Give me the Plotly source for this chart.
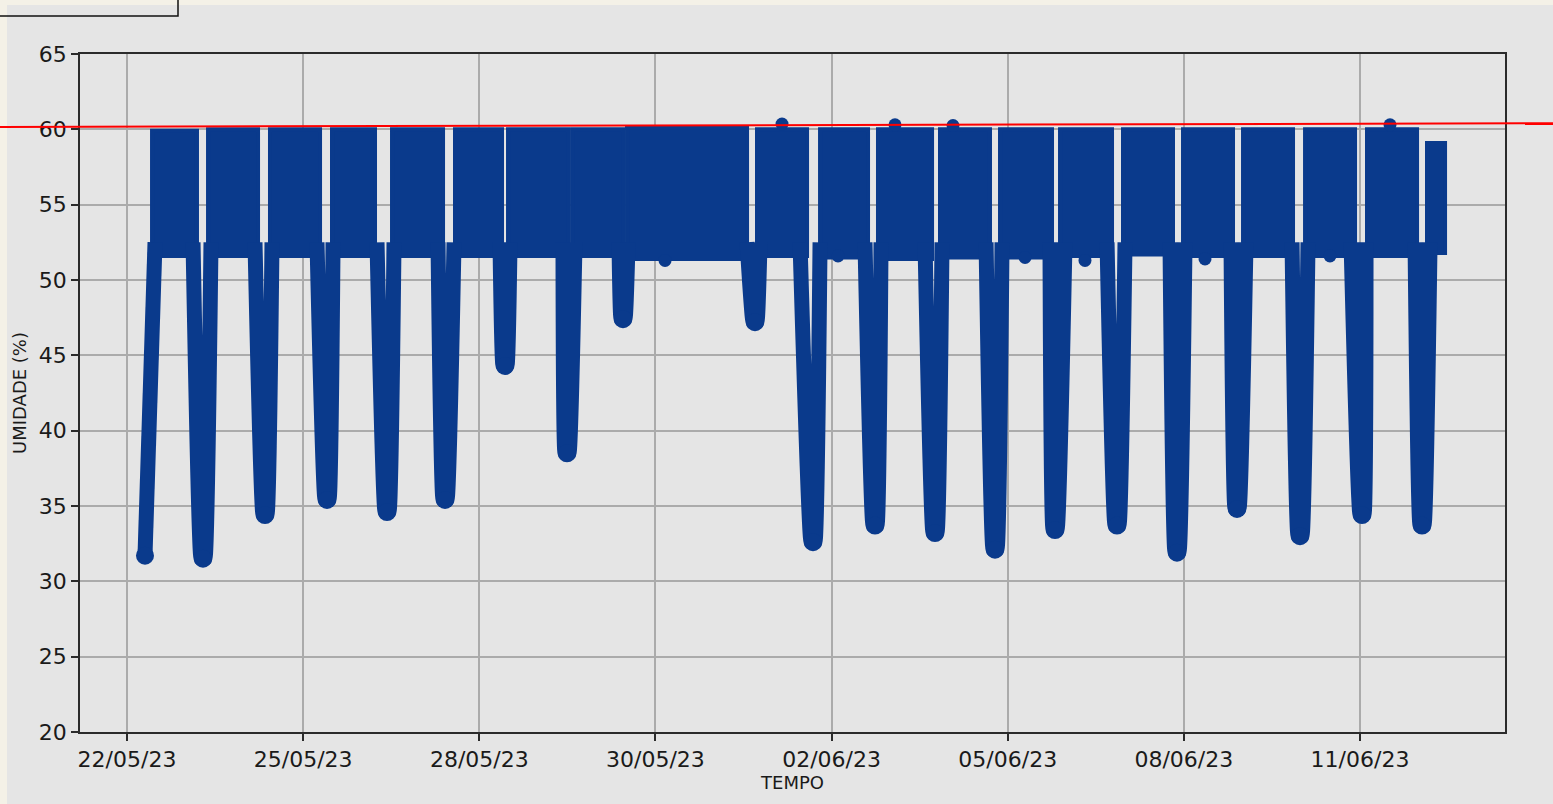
import pandas as pd
import plotly.graph_objects as go

BASE = pd.Timestamp("2023-05-22 00:00")

# ---------------- data (elapsed days since 22/05/23 00:00, humidity %) ----------------
# dense "plateau" blocks of readings
block_start = [0.662, 1.584, 2.604, 3.625, 4.613, 5.650, 6.523, 7.577, 8.482, 10.622,
               11.660, 12.614, 13.635, 14.623, 15.611, 16.648, 17.636, 18.624, 19.645,
               20.665, 21.653]
block_end = [1.402, 2.407, 3.428, 4.333, 5.453, 6.424, 7.511, 8.416, 10.458, 11.446,
             12.450, 13.504, 14.458, 15.479, 16.467, 17.471, 18.459, 19.447, 20.468,
             21.489, 21.950]
block_top = [59.9, 60.0, 60.0, 60.0, 60.0, 60.0, 60.0, 60.0, 60.1, 60.0,
             60.0, 60.0, 60.0, 60.0, 60.0, 60.0, 60.0, 60.0, 60.0, 60.0, 59.1]
block_bottom = [51.6, 51.6, 51.6, 51.6, 51.6, 51.6, 51.6, 51.6, 51.4, 51.6,
                51.5, 51.4, 51.5, 51.5, 51.6, 51.7, 51.6, 51.6, 51.6, 51.6, 51.8]

# daily humidity drops: leave plateau, minimum, return to plateau
dip_start = [None, 1.337, 2.357, 3.378, 4.366, 5.370, 6.391, 7.428, 8.350, 10.458,
             11.330, 12.400, 13.388, 14.393, 15.446, 16.385, 17.422, 18.426, 19.431,
             20.402, 21.456]
dip_min_t = [0.546, 1.501, 2.522, 3.543, 4.531, 5.486, 6.473, 7.494, 8.416, 10.589,
             11.544, 12.565, 13.553, 14.541, 15.529, 16.549, 17.537, 18.525, 19.562,
             20.583, 21.571]
dip_min_v = [31.2, 31.0, 33.9, 34.9, 34.1, 34.9, 43.8, 38.0, 46.9, 46.7,
             32.1, 33.2, 32.7, 31.6, 32.9, 33.2, 31.4, 34.3, 32.5, 33.9, 33.2]
dip_end = [0.711, 1.633, 2.637, 3.642, 4.646, 5.634, 6.556, 7.626, 8.499, 10.672,
           11.660, 12.664, 13.668, 14.656, 15.693, 16.681, 17.669, 18.673, 19.694,
           20.649, 21.703]

# isolated readings above / below the plateau
peak_t = [11.034, 12.894, 13.849, 21.044]
peak_v = [60.35, 60.3, 60.25, 60.3]
low_t = [9.108, 11.956, 15.035, 16.022, 17.998, 20.056]
low_v = [51.3, 51.6, 51.5, 51.3, 51.4, 51.6]

tick_days = [0.25, 3.15, 6.05, 8.95, 11.85, 14.75, 17.65, 20.55]
tick_labels = ["22/05/23", "25/05/23", "28/05/23", "30/05/23",
               "02/06/23", "05/06/23", "08/06/23", "11/06/23"]
x_range_days = [-0.524, 22.937]
y_range = [20, 65]
y_ticks = [20, 25, 30, 35, 40, 45, 50, 55, 60, 65]
limit_values = [60.16, 60.40]   # hand-drawn red limit line (left end, right end)

# ---------------- styling ----------------
COLOR = "#0a3a8c"
BG = "#e5e5e5"
FONT = "DejaVu Sans"
W, H = 1553, 804
ML, MR, MT, MB = 80, 48, 54, 72
LEG_TOP = 52.5
LEG_W = 15
R_UNITS = 0.5
PX_PER_DAY = (W - ML - MR) / (x_range_days[1] - x_range_days[0])
HALF_BOTTOM = 2.0 / PX_PER_DAY   # half-width of the rounded bottom of each drop


def T(d):
    return None if d is None else BASE + pd.to_timedelta(d, unit="D")


fig = go.Figure()

# plateau blocks
for s, e, t, b in zip(block_start, block_end, block_top, block_bottom):
    fig.add_trace(go.Scatter(
        x=[T(s), T(e), T(e), T(s), T(s)], y=[b, b, t, t, b],
        mode="lines", fill="toself", fillcolor=COLOR,
        line=dict(color=COLOR, width=4), hoverinfo="skip", showlegend=False))

# drops (each drawn as its own narrow U)
for s, mt, mv, e in zip(dip_start, dip_min_t, dip_min_v, dip_end):
    yb = mv + R_UNITS
    if s is None:
        xs, ys = [T(mt), T(e)], [yb, LEG_TOP]
    else:
        xs = [T(s), T(mt - HALF_BOTTOM), T(mt + HALF_BOTTOM), T(e)]
        ys = [LEG_TOP, yb, yb, LEG_TOP]
    fig.add_trace(go.Scatter(x=xs, y=ys, mode="lines",
                             line=dict(color=COLOR, width=LEG_W, shape="spline", smoothing=0.2),
                             hoverinfo="skip", showlegend=False))
fig.add_trace(go.Scatter(x=[T(t) for t in dip_min_t], y=[v + R_UNITS for v in dip_min_v],
                         mode="markers", marker=dict(color=COLOR, size=LEG_W + 3),
                         hoverinfo="skip", showlegend=False))
fig.add_trace(go.Scatter(x=[T(t) for t in peak_t + low_t], y=peak_v + low_v,
                         mode="markers", marker=dict(color=COLOR, size=13),
                         hoverinfo="skip", showlegend=False))


def px_x(p):
    return (p - ML) / (W - ML - MR)


def px_y(p):
    return (H - MB - p) / (H - MT - MB)


def val_y(v):
    return (v - y_range[0]) / (y_range[1] - y_range[0])


shapes = [
    # cream page strips around the screenshot
    dict(type="rect", xref="paper", yref="paper", x0=px_x(0), x1=px_x(7), y0=px_y(804), y1=px_y(0),
         fillcolor="#f4f1e7", line=dict(width=0), layer="above"),
    dict(type="rect", xref="paper", yref="paper", x0=px_x(0), x1=px_x(1553), y0=px_y(5), y1=px_y(0),
         fillcolor="#f4f1e7", line=dict(width=0), layer="above"),
    # partial box top-left
    dict(type="path", xref="paper", yref="paper",
         path=f"M {px_x(0)},{px_y(16)} L {px_x(178)},{px_y(16)} L {px_x(178)},{px_y(0)}",
         line=dict(color="#111111", width=1.5), layer="above"),
    # red limit line
    dict(type="line", xref="paper", yref="paper", x0=px_x(0), x1=px_x(1553),
         y0=val_y(limit_values[0]), y1=val_y(limit_values[1]),
         line=dict(color="#ff0000", width=2), layer="above"),
]

axis_common = dict(
    showline=True, linecolor="#2b2b2b", linewidth=1.5, mirror=True,
    ticks="outside", ticklen=7, tickwidth=1.5, tickcolor="#2b2b2b",
    showgrid=True, gridcolor="#ababab", gridwidth=1.5, zeroline=False,
    tickfont=dict(family=FONT, size=22, color="#1a1a1a"),
)

fig.update_layout(
    width=W, height=H, margin=dict(l=ML, r=MR, t=MT, b=MB, pad=0),
    paper_bgcolor=BG, plot_bgcolor=BG, showlegend=False,
    font=dict(family=FONT, color="#1a1a1a"),
    xaxis=dict(type="date", range=[T(x_range_days[0]), T(x_range_days[1])],
               tickmode="array", tickvals=[T(d) for d in tick_days], ticktext=tick_labels,
               title=dict(text="TEMPO", font=dict(family=FONT, size=18, color="#1a1a1a"), standoff=4),
               **axis_common),
    yaxis=dict(range=y_range, tickmode="array", tickvals=y_ticks,
               ticktext=[str(v) for v in y_ticks],
               title=dict(text="UMIDADE (%)", font=dict(family=FONT, size=18, color="#1a1a1a"), standoff=8),
               **axis_common),
    shapes=shapes,
)

fig.write_html("out.html", config={"displayModeBar": False},
               post_script="document.body.style.margin='0';document.body.style.overflow='hidden';")
